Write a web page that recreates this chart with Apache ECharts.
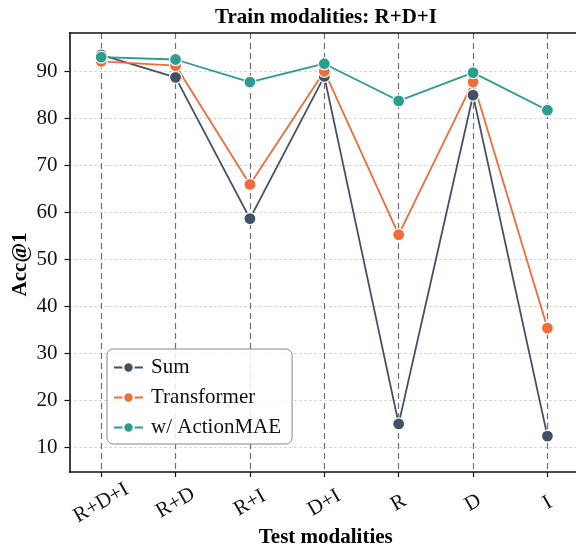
<!DOCTYPE html>
<html><head><meta charset="utf-8">
<script src="https://cdn.jsdelivr.net/npm/echarts@6/dist/echarts.min.js"></script>
<style>html,body{margin:0;padding:0;background:#fff}#c{width:576px;height:546px}</style>
</head><body><div id="c"></div>
<script>
const categories = ['R+D+I', 'R+D', 'R+I', 'D+I', 'R', 'D', 'I'];
const sumValues = [93.6, 88.8, 58.7, 89.0, 15.0, 85.0, 12.4];
const transformerValues = [92.2, 91.3, 66.0, 90.1, 55.3, 87.8, 35.4];
const actionMAEValues = [93.1, 92.6, 87.8, 91.7, 83.8, 89.8, 81.8];
const yTicks = [10, 20, 30, 40, 50, 60, 70, 80, 90];
const xTicks = categories.map((c, i) => i);

const F = 'Liberation Serif, Times New Roman, serif';
const FS = 21;
const toPairs = vals => vals.map((v, i) => [i, v]);
const mk = (name, vals, color) => ({
  name, type: 'line', data: toPairs(vals),
  symbol: 'circle', symbolSize: 12,
  lineStyle: { color, width: 1.8 },
  itemStyle: { color, borderColor: '#fff', borderWidth: 1.2 },
  emphasis: { disabled: true }, z: 3
});

const chart = echarts.init(document.getElementById('c'), null, { renderer: 'canvas' });
chart.setOption({
  animation: false,
  backgroundColor: '#fff',
  title: {
    text: 'Train modalities: R+D+I', left: 321, top: 2, textAlign: 'center',
    textStyle: { fontFamily: F, fontWeight: 'bold', fontSize: FS, color: '#000' }
  },
  grid: { left: 69.5, top: 33, right: -6, bottom: 74, containLabel: false, outerBoundsMode: 'none' },
  legend: {
    left: 107, top: 349, orient: 'vertical',
    padding: [8, 11, 6, 6], itemGap: 9,
    itemWidth: 29, itemHeight: 13,
    borderColor: '#888', borderWidth: 1, borderRadius: 6,
    backgroundColor: 'rgba(255,255,255,0.85)',
    textStyle: { fontFamily: F, fontSize: FS, color: '#111', padding: [0, 0, 0, 3] },
    data: ['Sum', 'Transformer', 'w/ ActionMAE']
  },
  xAxis: [{
    type: 'value', min: -0.426, max: 6.465, splitNumber: 7,
    name: 'Test modalities', nameLocation: 'middle', nameGap: 55, nameMoveOverlap: false,
    nameTextStyle: { fontFamily: F, fontWeight: 'bold', fontSize: FS, color: '#000' },
    axisLine: { show: true, onZero: false, lineStyle: { color: '#111', width: 1.6 } },
    axisTick: { show: true, length: 5, customValues: xTicks, lineStyle: { color: '#111', width: 1.2 } },
    axisLabel: {
      rotate: 30, margin: 31, align: 'center', verticalAlign: 'middle',
      customValues: xTicks,
      fontFamily: F, fontSize: FS, color: '#111',
      formatter: v => (Number.isInteger(v) && categories[v] !== undefined) ? categories[v] : ''
    },
    splitLine: { show: true, lineStyle: { color: '#6f6f6f', type: [6, 4], width: 1.2 } }
  }, {
    type: 'value', position: 'top', min: -0.426, max: 6.465,
    axisLine: { show: true, onZero: false, lineStyle: { color: '#111', width: 1.6 } },
    axisTick: { show: false }, axisLabel: { show: false }, splitLine: { show: false }
  }],
  yAxis: {
    type: 'value', min: 4.76, max: 98.24, splitNumber: 9,
    name: 'Acc@1', nameLocation: 'middle', nameGap: 38, nameMoveOverlap: false,
    nameTextStyle: { fontFamily: F, fontWeight: 'bold', fontSize: FS, color: '#000', padding: [0, 0, 0, -24] },
    axisLine: { show: true, onZero: false, lineStyle: { color: '#111', width: 1.6 } },
    axisTick: { show: true, length: 5, customValues: yTicks, lineStyle: { color: '#111', width: 1.2 } },
    axisLabel: {
      margin: 12, customValues: yTicks,
      fontFamily: F, fontSize: FS, color: '#111',
      formatter: v => yTicks.includes(Math.round(v * 1000) / 1000) ? String(v) : ''
    },
    splitLine: { show: true, lineStyle: { color: '#c8c8c8', type: [2, 3], width: 1.2 } }
  },
  series: [
    mk('Sum', sumValues, '#435168'),
    mk('Transformer', transformerValues, '#f26b38'),
    mk('w/ ActionMAE', actionMAEValues, '#2a9d8f')
  ]
});
</script></body></html>
